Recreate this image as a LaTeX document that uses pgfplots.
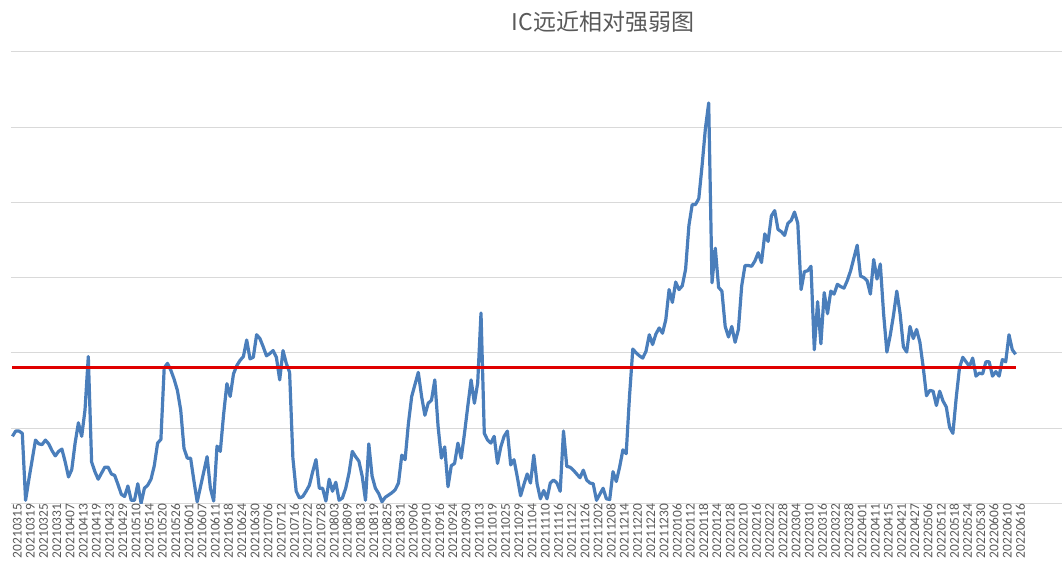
\documentclass[border=0pt]{standalone}
\usepackage{fontspec}
\setmainfont{Carlito}
\newfontfamily\cjk{Noto Sans CJK SC}
\usepackage{pgfplots}
\usepackage{pgfplotstable}
\pgfplotsset{compat=1.18}

\definecolor{lineblue}{HTML}{4A7EBB}
\definecolor{gridgray}{HTML}{D9D9D9}
\definecolor{textgray}{HTML}{595959}
\definecolor{refred}{HTML}{E00000}

% one value per trading day, 20210315 .. 20220616
\pgfplotstableread{
v
0.89
0.96
0.96
0.93
0.04
0.32
0.58
0.84
0.79
0.78
0.84
0.79
0.70
0.63
0.69
0.72
0.55
0.35
0.45
0.80
1.07
0.89
1.24
1.95
0.55
0.42
0.32
0.40
0.48
0.48
0.39
0.37
0.25
0.12
0.09
0.23
0.04
0.04
0.26
0.00
0.20
0.24
0.32
0.50
0.80
0.85
1.80
1.86
1.77
1.65
1.50
1.24
0.73
0.60
0.60
0.30
0.02
0.22
0.42
0.62
0.20
0.03
0.76
0.69
1.18
1.59
1.42
1.72
1.83
1.90
1.95
2.17
1.92
1.94
2.24
2.19
2.08
1.96
1.99
2.03
1.94
1.64
2.03
1.86
1.74
0.60
0.16
0.07
0.09
0.16
0.24
0.42
0.58
0.20
0.20
0.03
0.32
0.16
0.28
0.04
0.07
0.20
0.40
0.69
0.62
0.56
0.36
0.04
0.79
0.36
0.20
0.13
0.02
0.08
0.11
0.14
0.18
0.27
0.64
0.58
1.06
1.42
1.58
1.74
1.42
1.17
1.33
1.37
1.64
1.02
0.60
0.75
0.22
0.50
0.53
0.80
0.60
0.93
1.29
1.64
1.33
1.60
2.53
0.93
0.84
0.80
0.89
0.53
0.75
0.89
0.96
0.51
0.58
0.35
0.10
0.25
0.39
0.27
0.64
0.26
0.06
0.17
0.06
0.27
0.31
0.27
0.16
0.96
0.49
0.48
0.44
0.39
0.34
0.44
0.31
0.27
0.26
0.04
0.12
0.20
0.06
0.05
0.42
0.29
0.48
0.71
0.66
1.42
2.05
2.00
1.96
1.93
2.02
2.24
2.11
2.25
2.33
2.26
2.44
2.84
2.67
2.94
2.84
2.89
3.11
3.69
3.97
3.97
4.05
4.49
4.98
5.32
2.93
3.39
2.87
2.82
2.35
2.21
2.35
2.14
2.31
2.89
3.16
3.16
3.15
3.22
3.33
3.20
3.58
3.48
3.82
3.89
3.64
3.61
3.56
3.72
3.76
3.87
3.72
2.84
3.08
3.09
3.15
2.04
2.68
2.12
2.80
2.52
2.82
2.78
2.91
2.88
2.86
2.96
3.09
3.26
3.43
3.02
3.00
2.96
2.78
3.24
2.98
3.18
2.52
2.01
2.23
2.50
2.82
2.52
2.08
2.01
2.35
2.19
2.31
2.14
1.81
1.43
1.50
1.49
1.30
1.49
1.36
1.28
1.01
0.93
1.40
1.80
1.94
1.88
1.82
1.93
1.69
1.73
1.72
1.88
1.88
1.69
1.75
1.69
1.91
1.88
2.24
2.04
1.98
}\ratio

\begin{document}
\begin{tikzpicture}
\path[use as bounding box] (0,0) rectangle (531pt,284pt);
\begin{axis}[
  at={(5.375pt,32.35pt)}, anchor=south west,
  scale only axis, width=526.35pt, height=225.75pt,
  xmin=-0.5, xmax=318.5, ymin=0, ymax=6,
  axis line style={draw=none},
  ytick={0,...,6}, yticklabels={}, ymajorgrids,
  grid style={gridgray, line width=0.5pt},
  major tick length=0pt,
  xtick={0,4,...,304},
  xticklabels={20210315,20210319,20210325,20210331,20210407,20210413,20210419,20210423,
    20210429,20210510,20210514,20210520,20210526,20210601,20210607,20210611,20210618,
    20210624,20210630,20210706,20210712,20210716,20210722,20210728,20210803,20210809,
    20210813,20210819,20210825,20210831,20210906,20210910,20210916,20210924,20210930,
    20211013,20211019,20211025,20211029,20211104,20211110,20211116,20211122,20211126,
    20211202,20211208,20211214,20211220,20211224,20211230,20220106,20220112,20220118,
    20220124,20220128,20220210,20220216,20220222,20220228,20220304,20220310,20220316,
    20220322,20220328,20220401,20220411,20220415,20220421,20220427,20220506,20220512,
    20220518,20220524,20220530,20220606,20220610,20220616},
  xticklabel style={rotate=90, anchor=east, inner sep=0pt, yshift=-2.4pt,
    font=\fontsize{6.7}{7}\selectfont, text=textgray},
  title={IC远近相对强弱图},
  every axis title/.style={at={(0.5626,1.066)}, anchor=center, inner sep=0pt,
    font=\cjk\fontsize{11.5}{12}\selectfont, text=textgray},
]
\addplot[lineblue, line width=1.6pt, line join=round, no markers]
  table[x expr=\coordindex, y=v] {\ratio};
\addplot[refred, line width=1.6pt, no markers]
  coordinates {(0,1.8) (304,1.8)};
\end{axis}
\end{tikzpicture}
\end{document}
